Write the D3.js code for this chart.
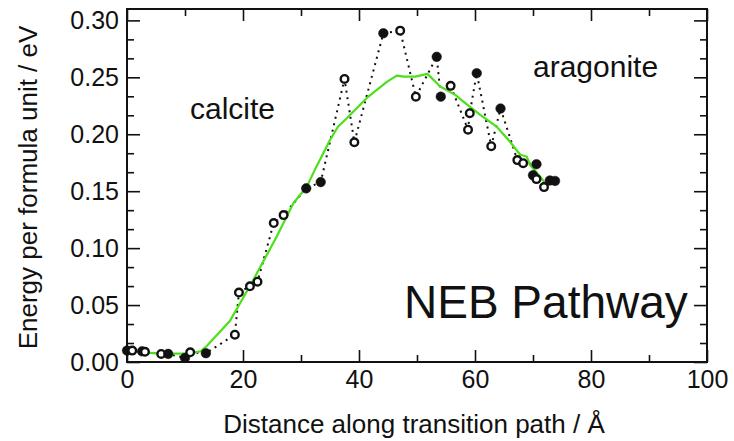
<!DOCTYPE html>
<html>
<head>
<meta charset="utf-8">
<script src="https://cdn.jsdelivr.net/npm/d3@7"></script>
<style>
  body { margin: 0; background: #fff; }
  svg text { font-family: "Liberation Sans", Arial, Helvetica, sans-serif; fill: #111; }
</style>
</head>
<body>
<div id="chart"></div>
<script>
// NEB images (distance / energy), filled = 1 for black dots, 0 for open rings
const pathDist   = [0.0, 0.9, 2.6, 3.1, 5.9, 7.1, 10.0, 10.9, 13.6, 18.6, 19.3, 21.2, 22.5, 25.3, 27.0, 30.9, 33.4, 37.5, 39.2, 44.2, 47.1, 49.8, 53.4, 54.1, 55.8, 58.8, 59.1, 60.3, 62.8, 64.4, 67.3, 68.3, 70.6, 70.0, 70.6, 71.9, 72.9, 73.8];
const pathEnergy = [0.0100, 0.0100, 0.0094, 0.0090, 0.0071, 0.0071, 0.0036, 0.0085, 0.0077, 0.0240, 0.0610, 0.0665, 0.0705, 0.1220, 0.1290, 0.1525, 0.1580, 0.2486, 0.1930, 0.2887, 0.2910, 0.2330, 0.2680, 0.2330, 0.2425, 0.2040, 0.2185, 0.2536, 0.1895, 0.2226, 0.1773, 0.1746, 0.1737, 0.1640, 0.1606, 0.1536, 0.1594, 0.1590];
const pathFilled = [1, 0, 1, 0, 0, 1, 1, 0, 1, 0, 0, 0, 0, 0, 0, 1, 1, 0, 0, 1, 0, 0, 1, 1, 0, 0, 0, 1, 0, 1, 0, 0, 1, 1, 0, 0, 1, 1];

// smoothed pathway (green)
const smoothDist   = [0.8, 5.5, 10.7, 12.7, 13.7, 17.7, 21.8, 25.8, 28.7, 31.0, 32.7, 35.0, 36.4, 37.9, 41.3, 44.8, 46.5, 47.7, 49.7, 51.8, 54.0, 56.6, 58.0, 60.9, 63.7, 66.0, 67.8, 68.9, 69.5, 71.2, 72.1, 73.0];
const smoothEnergy = [0.0094, 0.0073, 0.0073, 0.0094, 0.0138, 0.0357, 0.0723, 0.1100, 0.1396, 0.1540, 0.1720, 0.1950, 0.2068, 0.2140, 0.2317, 0.2460, 0.2515, 0.2506, 0.2506, 0.2530, 0.2420, 0.2346, 0.2287, 0.2170, 0.2068, 0.1936, 0.1820, 0.1805, 0.1730, 0.1630, 0.1570, 0.1580];

const xMajor = [0, 20, 40, 60, 80, 100];
const yMajor = [0, 0.05, 0.10, 0.15, 0.20, 0.25, 0.30];

const W = 734, H = 441;
const margin = {top: 9, right: 27, bottom: 79, left: 127};
const width = W - margin.left - margin.right,
      height = H - margin.top - margin.bottom;

const svg = d3.select("#chart").append("svg")
    .attr("width", W).attr("height", H);
const g = svg.append("g")
    .attr("transform", "translate(" + margin.left + "," + margin.top + ")");

const x = d3.scaleLinear().domain([0, 100]).range([0, width]);
const y = d3.scaleLinear().domain([0, 0.31]).range([height, 0]);

const xMinor = d3.range(10, 100, 20);
const yMinor = d3.range(0, 0.31, 0.05 / 3).filter(v => Math.abs(v / 0.05 - Math.round(v / 0.05)) > 0.01);

function ticks(axis, vals, size, fmt) {
  return axis.tickValues(vals).tickSize(-size).tickPadding(6).tickFormat(fmt || "");
}

// bottom
g.append("g").attr("class", "ax").attr("transform", "translate(0," + height + ")")
  .call(ticks(d3.axisBottom(x), xMajor, 12, d3.format("d")).tickPadding(8));
g.append("g").attr("class", "ax").attr("transform", "translate(0," + height + ")")
  .call(ticks(d3.axisBottom(x), xMinor, 7));
// top
g.append("g").attr("class", "ax").call(ticks(d3.axisTop(x), xMajor, 12));
g.append("g").attr("class", "ax").call(ticks(d3.axisTop(x), xMinor, 7));
// left
g.append("g").attr("class", "ax")
  .call(ticks(d3.axisLeft(y), yMajor, 13, d3.format(".2f")).tickPadding(8));
g.append("g").attr("class", "ax").call(ticks(d3.axisLeft(y), yMinor, 7));
// right
g.append("g").attr("class", "ax").attr("transform", "translate(" + width + ",0)")
  .call(ticks(d3.axisRight(y), yMajor, 13));
g.append("g").attr("class", "ax").attr("transform", "translate(" + width + ",0)")
  .call(ticks(d3.axisRight(y), yMinor, 7));

g.selectAll(".ax .domain").remove();
g.selectAll(".ax line").attr("stroke", "#111").attr("stroke-width", 1.6);
g.selectAll(".ax text").attr("font-size", 25).attr("fill", "#111");

g.append("rect")
  .attr("width", width).attr("height", height)
  .attr("fill", "none").attr("stroke", "#111").attr("stroke-width", 2);

// dotted path through all images
const pts = pathDist.map((d, i) => ({d: d, e: pathEnergy[i], f: pathFilled[i]}));
const line = d3.line().x(p => x(p.d)).y(p => y(p.e));
g.append("path")
  .datum(pts)
  .attr("d", line)
  .attr("fill", "none")
  .attr("stroke", "#111")
  .attr("stroke-width", 2)
  .attr("stroke-dasharray", "2,4.6");

// green smoothed line
const smooth = smoothDist.map((d, i) => ({d: d, e: smoothEnergy[i]}));
g.append("path")
  .datum(smooth)
  .attr("d", line)
  .attr("fill", "none")
  .attr("stroke", "#4ce01a")
  .attr("stroke-width", 2.2)
  .attr("stroke-linejoin", "round");

// markers
g.append("g").selectAll("circle")
  .data(pts)
  .join("circle")
  .attr("cx", p => x(p.d))
  .attr("cy", p => y(p.e))
  .attr("r", p => p.f ? 4.8 : 3.8)
  .attr("fill", p => p.f ? "#111" : "#fff")
  .attr("stroke", "#111")
  .attr("stroke-width", p => p.f ? 0.5 : 2.4);

// annotations
g.append("text").attr("x", 63).attr("y", 110).attr("font-size", 30).text("calcite");
g.append("text").attr("x", 406).attr("y", 68).attr("font-size", 30).text("aragonite");
g.append("text").attr("x", 277).attr("y", 309).attr("font-size", 46).text("NEB Pathway");

// axis titles
svg.append("text")
  .attr("x", margin.left + width / 2 - 3).attr("y", 433)
  .attr("text-anchor", "middle").attr("font-size", 26)
  .text("Distance along transition path / Å");
svg.append("text")
  .attr("transform", "translate(37," + (margin.top + height / 2 + 2) + ") rotate(-90)")
  .attr("text-anchor", "middle").attr("font-size", 26)
  .text("Energy per formula unit / eV");
</script>
</body>
</html>
